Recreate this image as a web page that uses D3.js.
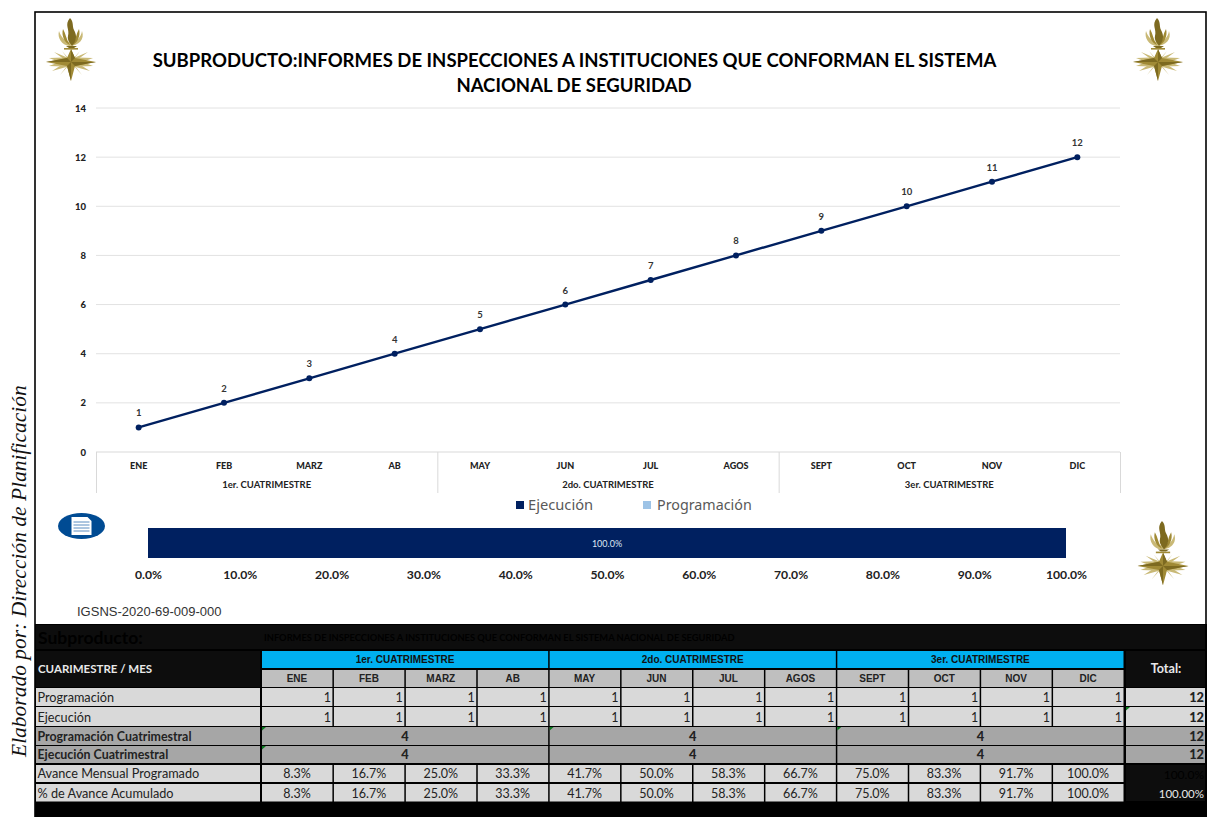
<!DOCTYPE html>
<html><head><meta charset="utf-8">
<script src="https://cdnjs.cloudflare.com/ajax/libs/d3/7.8.5/d3.min.js"></script>
<style>html,body{margin:0;padding:0;background:#fff;overflow:hidden}svg{display:block}text{font-family:Lato,"Noto Sans",sans-serif}</style>
</head><body><svg id="c" width="1207" height="817"></svg>
<script>
const months=["ENE","FEB","MARZ","AB","MAY","JUN","JUL","AGOS","SEPT","OCT","NOV","DIC"];
const quarters=["1er. CUATRIMESTRE","2do. CUATRIMESTRE","3er. CUATRIMESTRE"];
const ejecucionAcum=[1,2,3,4,5,6,7,8,9,10,11,12];
const programacion=[1,1,1,1,1,1,1,1,1,1,1,1];
const ejecucion=[1,1,1,1,1,1,1,1,1,1,1,1];
const progCuat=[4,4,4];
const ejecCuat=[4,4,4];
const avanceProg=["8.3%","16.7%","25.0%","33.3%","41.7%","50.0%","58.3%","66.7%","75.0%","83.3%","91.7%","100.0%"];
const avanceAcum=["8.3%","16.7%","25.0%","33.3%","41.7%","50.0%","58.3%","66.7%","75.0%","83.3%","91.7%","100.0%"];
const totals=["12","12","12","12"];
const yTicks=[0,2,4,6,8,10,12,14];
const barValue=[1];
const barTicks=[0,.1,.2,.3,.4,.5,.6,.7,.8,.9,1];
const rowLabels=["Programación","Ejecución","Programación Cuatrimestral","Ejecución Cuatrimestral","Avance Mensual Programado","% de Avance Acumulado"];

const svg=d3.select("#c");
const NAVY="#002060";
function T(g,x,y,s,o={}){const t=g.append("text").attr("x",x).attr("y",y).text(s)
 .attr("font-size",o.size||10).attr("font-weight",o.w||"normal").attr("fill",o.fill||"#000")
 .attr("text-anchor",o.a||"middle");
 if(o.family)t.style("font-family",o.family);
 return t;}

// frame
svg.append("rect").attr("x",35).attr("y",12).attr("width",1171).attr("height",805).attr("fill","#fff").attr("stroke","#000").attr("stroke-width",1.6);

// title
const TG=svg.append("g");
T(TG,574.5,67,"SUBPRODUCTO:INFORMES DE INSPECCIONES A INSTITUCIONES QUE CONFORMAN EL SISTEMA",{size:18.55,w:700});
T(TG,574,92,"NACIONAL DE SEGURIDAD",{size:18.55,w:700});

// line chart
const x=d3.scaleBand().domain(months).range([96,1120]);
const y=d3.scaleLinear().domain([0,14]).range([452,108]);
const grid=svg.append("g");
grid.selectAll("line").data(yTicks).join("line").attr("x1",96).attr("x2",1120)
 .attr("y1",d=>y(d)).attr("y2",d=>y(d)).attr("stroke",d=>d?"#e2e2e2":"#d9d9d9").attr("stroke-width",1);
const ya=d3.axisLeft(y).tickValues(yTicks).tickSize(0).tickPadding(0);
const yg=svg.append("g").attr("transform","translate(86,0)").call(ya);
yg.select(".domain").remove();
yg.selectAll("text").attr("font-size",9.5).attr("font-weight",900).attr("fill","#222").style("font-family","Lato");
const xa=d3.axisBottom(x).tickSize(0).tickPadding(0);
const xg=svg.append("g").attr("transform","translate(0,462.5)").call(xa);
xg.select(".domain").remove();
xg.selectAll("text").attr("font-size",9).attr("font-weight",900).attr("fill","#222").style("font-family","Lato");
// quarter dividers
const sep=svg.append("g");
[0,4,8,12].forEach(i=>{const px=96+i*x.bandwidth();sep.append("line").attr("x1",px+.5).attr("x2",px+.5).attr("y1",452).attr("y2",493).attr("stroke","#d9d9d9");});
quarters.forEach((q,i)=>T(sep,96+(i*4+2)*x.bandwidth(),488,q,{size:9.5,w:700,fill:"#222"}));

const line=d3.line().x((d,i)=>x(months[i])+x.bandwidth()/2).y(d=>y(d));
svg.append("path").datum(ejecucionAcum).attr("d",line).attr("fill","none").attr("stroke",NAVY).attr("stroke-width",2.4);
const pts=svg.append("g");
pts.selectAll("circle").data(ejecucionAcum).join("circle").attr("cx",(d,i)=>x(months[i])+x.bandwidth()/2).attr("cy",d=>y(d)).attr("r",3).attr("fill",NAVY);
pts.selectAll("text").data(ejecucionAcum).join("text").attr("x",(d,i)=>x(months[i])+x.bandwidth()/2).attr("y",d=>y(d)-11)
 .attr("text-anchor","middle").attr("font-size",9.5).attr("font-weight",700).attr("fill","#333").text(d=>d);

// legend
const L=svg.append("g");
L.append("rect").attr("x",516).attr("y",501).attr("width",8).attr("height",8).attr("fill",NAVY);
T(L,528,510,"Ejecución",{size:14.7,a:"start",fill:"#595959",family:"'Noto Sans'"});
L.append("rect").attr("x",643).attr("y",501).attr("width",8).attr("height",8).attr("fill","#9dc3e6");
T(L,657,510,"Programación",{size:14.3,a:"start",fill:"#595959",family:"'Noto Sans'"});

// progress bar
const bx=d3.scaleLinear().domain([0,1]).range([148,1066]);
svg.append("g").selectAll("rect").data(barValue).join("rect").attr("x",bx(0)).attr("y",528).attr("width",d=>bx(d)-bx(0)).attr("height",30).attr("fill",NAVY);
T(svg,bx(.5),547,"100.0%",{size:9,fill:"#dfe6f2"});
const ba=d3.axisBottom(bx).tickValues(barTicks).tickFormat(d3.format(".1%")).tickSize(0).tickPadding(0);
const bg=svg.append("g").attr("transform","translate(0,570)").call(ba);
bg.select(".domain").remove();
bg.selectAll("text").attr("font-size",12.2).attr("font-weight",700).attr("fill","#222").style("font-family","Lato");

T(svg,77,616,"IGSNS-2020-69-009-000",{size:13,a:"start",fill:"#333",family:"'Liberation Sans'"});

// rotated
T(svg,0,0,"Elaborado por: Dirección de Planificación",{size:21.5,a:"start",fill:"#111",family:"'Liberation Serif'"})
 .attr("font-style","italic").attr("transform","translate(26,757) rotate(-90)");

// doc icon
const ic=svg.append("g").attr("transform","translate(81.5,526)");
ic.append("ellipse").attr("rx",23.5).attr("ry",13).attr("fill","#004b93");
ic.append("path").attr("d","M-10,-9H6L10,-5V9H-10Z").attr("fill","#fff");
[-4,-1,2,5].forEach(d=>ic.append("line").attr("x1",-8).attr("x2",8).attr("y1",d).attr("y2",d).attr("stroke","#5b8cc0").attr("stroke-width",1));

// logos
function logo(cx,top,sc){
 const g=svg.append("g").attr("transform",`translate(${cx},${top}) scale(${sc})`);
 const gold="#a08a35",light="#c9b976",dark="#7d6a20";
 g.append("path").attr("d","M-12,13C-14,20 -9,27 -2,28C8,28 14,21 11,13C10,19 6,24 0,24C-6,24 -10,19 -12,13Z").attr("fill",light);
 g.append("path").attr("d","M-8,11C-10,18 -6,25 -1,27C-5,21 -5,16 -8,11Z").attr("fill",gold);
 g.append("path").attr("d","M8,11C10,18 6,25 2,27C5,21 5,16 8,11Z").attr("fill",gold);
 g.append("path").attr("d","M-1,0C-7,7 -1,11 -3,18C-4,22 -1,25 1,28C6,23 6,17 3,12C1,8 3,4 -1,0Z").attr("fill",dark);
 g.append("path").attr("d","M-5,28H6L3,30H-2Z").attr("fill",dark);
 g.append("rect").attr("x",-7).attr("y",30).attr("width",14).attr("height",1.6).attr("fill",gold);
 const cy=44;
 [[17,-10],[-17,-10],[19,9],[-19,9],[9,-11],[-9,-11],[11,13],[-11,13],[22,-4],[-22,-4],[22,4],[-22,4]].forEach(p=>{
  g.append("path").attr("d",`M${-p[1]*.22},${cy-p[0]*.22}L${p[0]},${cy+p[1]}L${p[1]*.22},${cy+p[0]*.22}Z`).attr("fill",light);});
 g.append("path").attr("d",`M0,${cy-13}L4,${cy-4}L25,${cy}L4,${cy+4}L0,${cy+19}L-4,${cy+4}L-25,${cy}L-4,${cy-4}Z`).attr("fill",gold);
 g.append("path").attr("d",`M0,${cy-13}L4,${cy-4}L0,${cy}Z M25,${cy}L4,${cy+4}L0,${cy}Z M0,${cy+19}L-4,${cy+4}L0,${cy}Z M-25,${cy}L-4,${cy-4}L0,${cy}Z`).attr("fill",dark);
}
logo(71,18,1);logo(1158,18,1);logo(1163,521,1.02);

// table
const tb=svg.append("g");
tb.append("rect").attr("x",35).attr("y",624).attr("width",1172).attr("height",193).attr("fill","#000");
tb.append("rect").attr("x",36).attr("y",625).attr("width",1169).attr("height",24).attr("fill","#0d0d0d");
T(tb,38,644,"Subproducto:",{size:17.5,w:700,a:"start",fill:"#000"});
T(tb,264,641,"INFORMES DE INSPECCIONES A INSTITUCIONES QUE CONFORMAN EL SISTEMA NACIONAL DE SEGURIDAD",{size:9.3,w:700,a:"start",fill:"#000"});
tb.append("rect").attr("x",36).attr("y",651).attr("width",224).attr("height",36).attr("fill","#0d0d0d");
T(tb,38,673,"CUARIMESTRE / MES",{size:11.5,w:700,a:"start",fill:"#e8e8e8"});
tb.append("rect").attr("x",1126).attr("y",651).attr("width",79).attr("height",36).attr("fill","#0d0d0d");
T(tb,1166,673,"Total:",{size:12.6,w:700,fill:"#e8e8e8"});

const cw=(1125-262)/12;
const cx=i=>262+i*cw;
const NAR="'Liberation Sans'";
quarters.forEach((q,i)=>{
 const a=cx(i*4),b=cx(i*4+4)-1.5;
 tb.append("rect").attr("x",a).attr("y",651).attr("width",b-a).attr("height",17).attr("fill","#00b0f0");
 T(tb,(a+b)/2,663,q,{size:10,w:700,fill:"#111",family:NAR});
});
months.forEach((m,i)=>{
 tb.append("rect").attr("x",cx(i)).attr("y",670).attr("width",cw-1.5).attr("height",17).attr("fill","#bfbfbf");
 T(tb,cx(i)+cw/2-1,682,m,{size:10,w:700,fill:"#222",family:NAR});
});
const rows=[[688,18,"#d9d9d9"],[707,19,"#d9d9d9"],[727,18,"#a6a6a6"],[746,17,"#a6a6a6"],[765,17,"#d9d9d9"],[784,17.5,"#d9d9d9"]];
rows.forEach((r,ri)=>{
 const bold=ri==2||ri==3, base=r[0]+r[1]-4;
 tb.append("rect").attr("x",36).attr("y",r[0]).attr("width",224).attr("height",r[1]).attr("fill",r[2]);
 T(tb,37.5,base,rowLabels[ri],{size:bold?12.4:12.7,w:bold?700:400,a:"start",fill:"#222"});
 if(ri<4) tb.append("rect").attr("x",1126).attr("y",r[0]).attr("width",79).attr("height",r[1]).attr("fill",r[2]);
 if(ri<4) T(tb,1204,base,totals[ri],{size:12.8,w:900,a:"end",fill:"#222"});
 if(bold){
  (ri==2?progCuat:ejecCuat).forEach((v,i)=>{
   const a=cx(i*4),b=cx(i*4+4)-1.5;
   tb.append("rect").attr("x",a).attr("y",r[0]).attr("width",b-a).attr("height",r[1]).attr("fill",r[2]);
   T(tb,(a+b)/2,base,v,{size:12.8,w:900,fill:"#222"});
   if(ri==2||i==0) tb.append("path").attr("d",`M${a},${r[0]}h4l-4,3.5z`).attr("fill","#0a7a1e");
  });
 } else {
  const vals=[programacion,ejecucion,null,null,avanceProg,avanceAcum][ri];
  vals.forEach((v,i)=>{
   tb.append("rect").attr("x",cx(i)).attr("y",r[0]).attr("width",cw-1.5).attr("height",r[1]).attr("fill",r[2]);
   if(ri<2) T(tb,cx(i)+cw-3,base,v,{size:12.5,a:"end",fill:"#222"});
   else T(tb,cx(i)+cw/2-1,base,v,{size:12.5,fill:"#222"});
  });
 }
});
tb.append("path").attr("d","M1126,707h4l-4,3.5z").attr("fill","#0a7a1e");
tb.append("rect").attr("x",1126).attr("y",765).attr("width",79).attr("height",36).attr("fill","#0d0d0d");
T(tb,1204,779,"100.0%",{size:12,a:"end",fill:"#000"});
T(tb,1204,798,"100.00%",{size:11.5,a:"end",fill:"#e8e8e8"});
</script></body></html>
